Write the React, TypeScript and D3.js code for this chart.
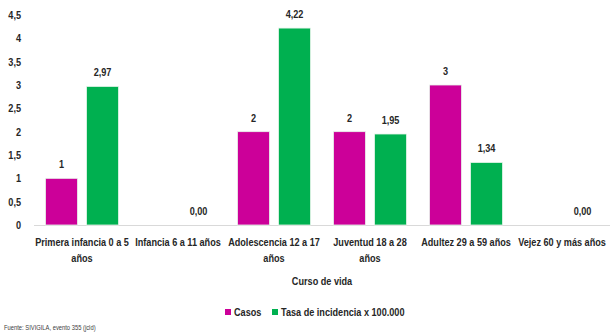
import React, { useEffect, useRef } from "react";
import * as d3 from "d3";

const categories = [
  ["Primera infancia 0 a 5", "años"],
  ["Infancia 6 a 11 años"],
  ["Adolescencia 12 a 17", "años"],
  ["Juventud 18 a 28", "años"],
  ["Adultez 29 a 59 años"],
  ["Vejez 60 y más años"],
];
const casos = [1, 0, 2, 2, 3, 0];
const tasa = [2.97, 0, 4.22, 1.95, 1.34, 0];
const yTicks = [0, 0.5, 1, 1.5, 2, 2.5, 3, 3.5, 4, 4.5];
const seriesNames = ["Casos", "Tasa de incidencia x 100.000"];
const colors = ["#CC0099", "#00B050"];

const FONT = "'Liberation Sans', Arial, sans-serif";
// condensed look (Calibri-like) by squeezing the text horizontally
const SQUEEZE = 0.83;

const App: React.FC = () => {
  const ref: any = useRef();

  useEffect(() => {
    const svg = d3.select(ref.current);
    svg.selectAll("*").remove();

    const left = 34;
    const right = 610;
    const top = 15;
    const bottom = 225;

    const label = (
      x: number,
      y: number,
      txt: string,
      anchor = "middle",
      size = 11,
      bold = true,
      color = "#262626"
    ) => {
      svg
        .append("text")
        .attr("transform", `translate(${x},${y}) scale(${SQUEEZE},1)`)
        .attr("text-anchor", anchor)
        .attr("font-family", FONT)
        .attr("font-weight", bold ? "bold" : "normal")
        .attr("font-size", size)
        .attr("fill", color)
        .text(txt);
    };

    const x0 = d3
      .scaleBand()
      .domain(categories.map((c, i) => String(i)))
      .range([left, right]);
    const x1 = d3
      .scaleBand()
      .domain(["0", "1"])
      .range([0, x0.bandwidth()])
      .paddingInner(0.22)
      .paddingOuter(0.28);
    const y = d3.scaleLinear().domain([0, 4.5]).range([bottom, top]);

    const fmt = (v: number) => v.toString().replace(".", ",");

    // y ticks
    yTicks.forEach((t) => label(21, y(t) + 4, fmt(t), "end"));

    // axis line
    svg
      .append("line")
      .attr("x1", left)
      .attr("x2", right)
      .attr("y1", bottom + 0.5)
      .attr("y2", bottom + 0.5)
      .attr("stroke", "#d9d9d9")
      .attr("stroke-width", 1);

    const series = [casos, tasa];
    series.forEach((vals, s) => {
      svg
        .append("g")
        .selectAll("rect")
        .data(vals)
        .join("rect")
        .attr("x", (d, i) => (x0(String(i)) as number) + (x1(String(s)) as number))
        .attr("y", (d) => y(d))
        .attr("width", x1.bandwidth())
        .attr("height", (d) => bottom - y(d))
        .attr("fill", colors[s])
        .attr("stroke", "#e8f5ec")
        .attr("stroke-width", 0.8);

      vals.forEach((v, i) => {
        if (s === 0 && v <= 0) return;
        const cx = (x0(String(i)) as number) + (x1(String(s)) as number) + x1.bandwidth() / 2;
        label(cx, y(v) - 10, s === 1 ? v.toFixed(2).replace(".", ",") : String(v));
      });
    });

    // category labels
    categories.forEach((lines, i) => {
      const cx = (x0(String(i)) as number) + x0.bandwidth() / 2;
      lines.forEach((ln, k) => label(cx, 246 + k * 16, ln));
    });

    label((left + right) / 2, 285, "Curso de vida");

    // legend
    const legX = [225, 272];
    seriesNames.forEach((name, s) => {
      svg
        .append("rect")
        .attr("x", legX[s])
        .attr("y", 309)
        .attr("width", 6)
        .attr("height", 6)
        .attr("fill", colors[s]);
      label(legX[s] + 9, 316, name, "start");
    });

    label(4, 330, "Fuente: SIVIGILA, evento 355 (jcld)", "start", 7, false, "#404040");
  }, []);

  return (
    <svg
      ref={ref}
      width={610}
      height={333}
      style={{ position: "absolute", left: 0, top: 0, background: "#fff" }}
    />
  );
};

export default App;
